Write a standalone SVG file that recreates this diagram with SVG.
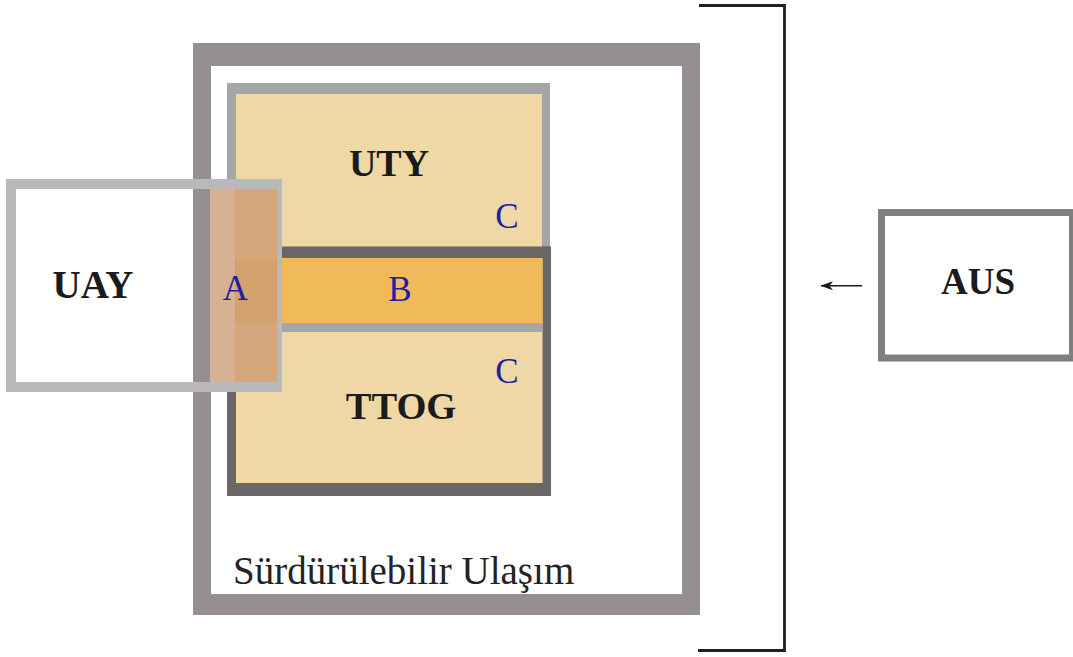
<svg xmlns="http://www.w3.org/2000/svg" width="1073" height="657" viewBox="0 0 1073 657">
  <style>
    .lbl { font-family: "Liberation Serif", "Times New Roman", serif; font-weight: bold; fill: #1b1b1b; text-anchor: middle; }
    .let { font-family: "Liberation Serif", "Times New Roman", serif; fill: #1f1fa3; text-anchor: middle; font-size: 35px; }
    .cap { font-family: "Liberation Serif", "Times New Roman", serif; fill: #232323; font-size: 39px; }
  </style>
  <defs>
    <marker id="arr" viewBox="0 0 13 10" refX="12" refY="5" markerWidth="13" markerHeight="10" markerUnits="userSpaceOnUse" orient="auto">
      <path d="M0,0.5 L12.5,5 L0,9.5 L3.5,5 Z" fill="#1b1b1b"/>
    </marker>
  </defs>
  <rect width="1073" height="657" fill="#ffffff"/>

  <g id="surdurulebilir-ulasim">
    <path d="M193,43 H700 V615 H193 Z M211,66 V594 H682 V66 Z" fill="#958f8f" fill-rule="evenodd"/>
    <text class="cap" x="233" y="584">Sürdürülebilir Ulaşım</text>
  </g>

  <g id="uty-ttog">
    <rect x="227" y="83" width="323" height="413" fill="#f0d8a6"/>
    <rect x="227" y="83" width="323" height="11" fill="#a6a6a6"/>
    <rect x="227" y="83" width="9" height="250" fill="#a6a6a6"/>
    <rect x="542" y="83" width="8" height="165" fill="#a6a6a6"/>
    <rect x="227" y="323" width="9" height="173" fill="#696767"/>
    <rect x="227" y="483" width="324" height="13" fill="#696767"/>
    <rect x="542.5" y="246.5" width="8.5" height="249.5" fill="#696767"/>
    <text class="lbl" x="389" y="176" font-size="38">UTY</text>
    <text class="let" x="507" y="228">C</text>
    <text class="lbl" x="401" y="419" font-size="38.5">TTOG</text>
    <text class="let" x="507" y="383">C</text>
  </g>

  <g id="b">
    <rect x="236" y="246.5" width="314" height="11.5" fill="#696767"/>
    <rect x="236" y="258" width="306.5" height="65" fill="#f0b95a"/>
    <rect x="236" y="323" width="306.5" height="9" fill="#a6a6a6"/>
    <text class="let" x="400" y="300.5">B</text>
  </g>

  <g id="uay">
    <rect x="11" y="184" width="266" height="203" fill="none" stroke="#b9b9bb" stroke-width="10"/>
    <text class="lbl" x="93" y="298" font-size="39">UAY</text>
  </g>

  <g id="a">
    <rect x="210" y="189" width="25" height="193" fill="#d6b192"/>
    <rect x="235" y="189" width="42" height="193" fill="#d3a67c"/>
    <rect x="235" y="258" width="42" height="65" fill="#d4a26f"/>
    <text class="let" x="235.5" y="300">A</text>
  </g>

  <g id="aus">
    <rect x="881.5" y="212.5" width="191" height="145.5" fill="#ffffff" stroke="#808080" stroke-width="7"/>
    <text class="lbl" x="978" y="294" font-size="37">AUS</text>
  </g>

  <g id="connectors">
    <path d="M699,5.5 H784.5 V650.5 H698" fill="none" stroke="#1e1e1e" stroke-width="2.8"/>
    <line x1="862" y1="285.7" x2="821" y2="285.7" stroke="#1b1b1b" stroke-width="1.6" marker-end="url(#arr)"/>
  </g>
</svg>
